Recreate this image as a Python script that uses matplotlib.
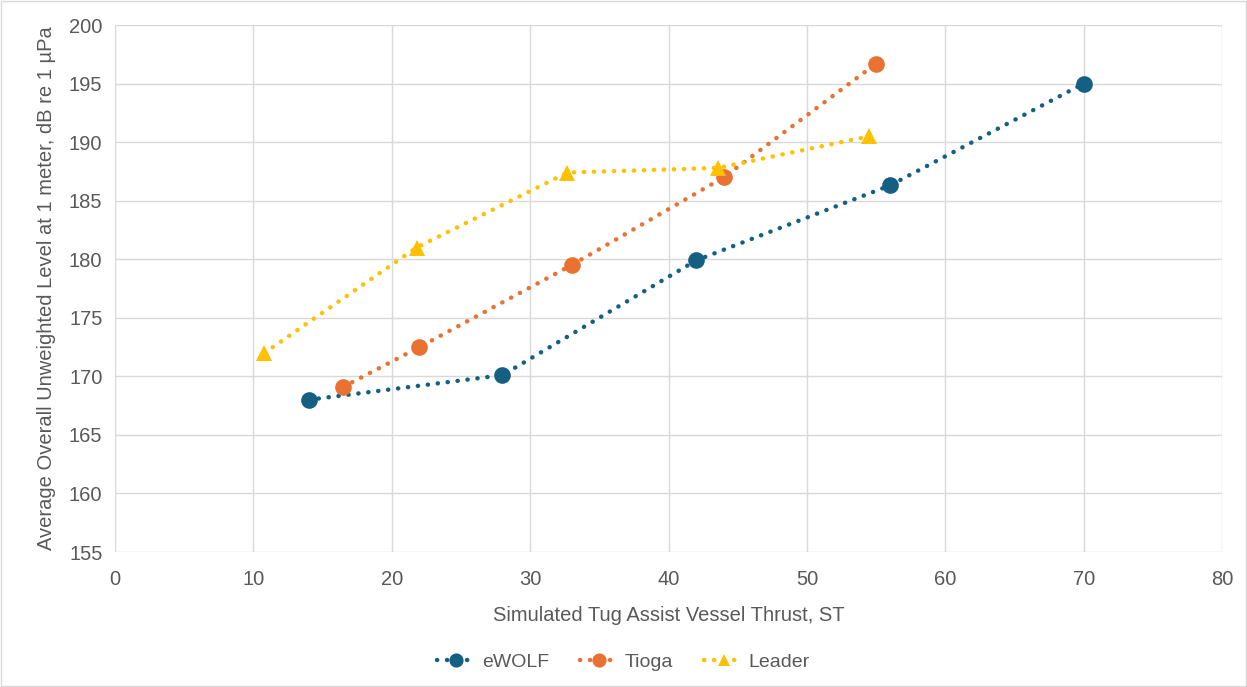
"""Tug assist vessel thrust vs average overall unweighted source level."""

import matplotlib.pyplot as plt

plt.rcParams["font.family"] = ["Liberation Sans", "DejaVu Sans"]

EWOLF_X = [14, 28, 42, 56, 70]
EWOLF_Y = [168.0, 170.1, 179.9, 186.3, 195.0]

TIOGA_X = [16.5, 22, 33, 44, 55]
TIOGA_Y = [169.1, 172.5, 179.5, 187.0, 196.7]

LEADER_X = [10.8, 21.8, 32.7, 43.6, 54.5]
LEADER_Y = [172.0, 181.0, 187.4, 187.8, 190.5]

SERIES = [
    ("eWOLF", EWOLF_X, EWOLF_Y, "#156082", "o", 12),
    ("Tioga", TIOGA_X, TIOGA_Y, "#E97132", "o", 12),
    ("Leader", LEADER_X, LEADER_Y, "#FFC000", "^", 11),
]

TEXT = "#595959"
GRID = "#D9D9D9"

fig = plt.figure(figsize=(12.47, 6.87), dpi=100)
ax = fig.add_axes([0.0922, 0.1965, 0.8878, 0.7671])

for name, xs, ys, color, marker, ms in SERIES:
    ax.plot(
        xs,
        ys,
        color=color,
        lw=3.2,
        ls=(0, (0.05, 2.2)),
        dash_capstyle="round",
        marker=marker,
        markersize=ms,
        markeredgewidth=0,
        label=name,
    )

ax.set_xlim(0, 80)
ax.set_ylim(155, 200)
ax.set_xticks(range(0, 81, 10))
ax.set_yticks(range(155, 201, 5))
ax.grid(True, color=GRID, lw=1.0)
ax.set_axisbelow(True)
for side in ["top", "right", "left", "bottom"]:
    ax.spines[side].set_visible(False)
ax.tick_params(length=0, labelsize=14.5, colors=TEXT)
ax.tick_params(axis="x", pad=13)
ax.tick_params(axis="y", pad=9)

ax.set_xlabel("Simulated Tug Assist Vessel Thrust, ST", fontsize=14.5, color=TEXT, labelpad=12)
ax.set_ylabel(
    "Average Overall Unweighted Level at 1 meter, dB re 1 \u00b5Pa",
    fontsize=14.5,
    color=TEXT,
    labelpad=9,
)

leg = fig.legend(
    loc="center",
    bbox_to_anchor=(0.5, 0.036),
    ncol=3,
    frameon=False,
    fontsize=14,
    handlelength=2.0,
    columnspacing=1.6,
    handletextpad=0.3,
    markerscale=0.85,
)
for txt in leg.get_texts():
    txt.set_color(TEXT)

fig.patches.append(
    plt.Rectangle((0.001, 0.001), 0.998, 0.998, transform=fig.transFigure,
                  fill=False, edgecolor="#D9D9D9", lw=1.0)
)

fig.savefig("out.png", dpi=100)
plt.close(fig)
